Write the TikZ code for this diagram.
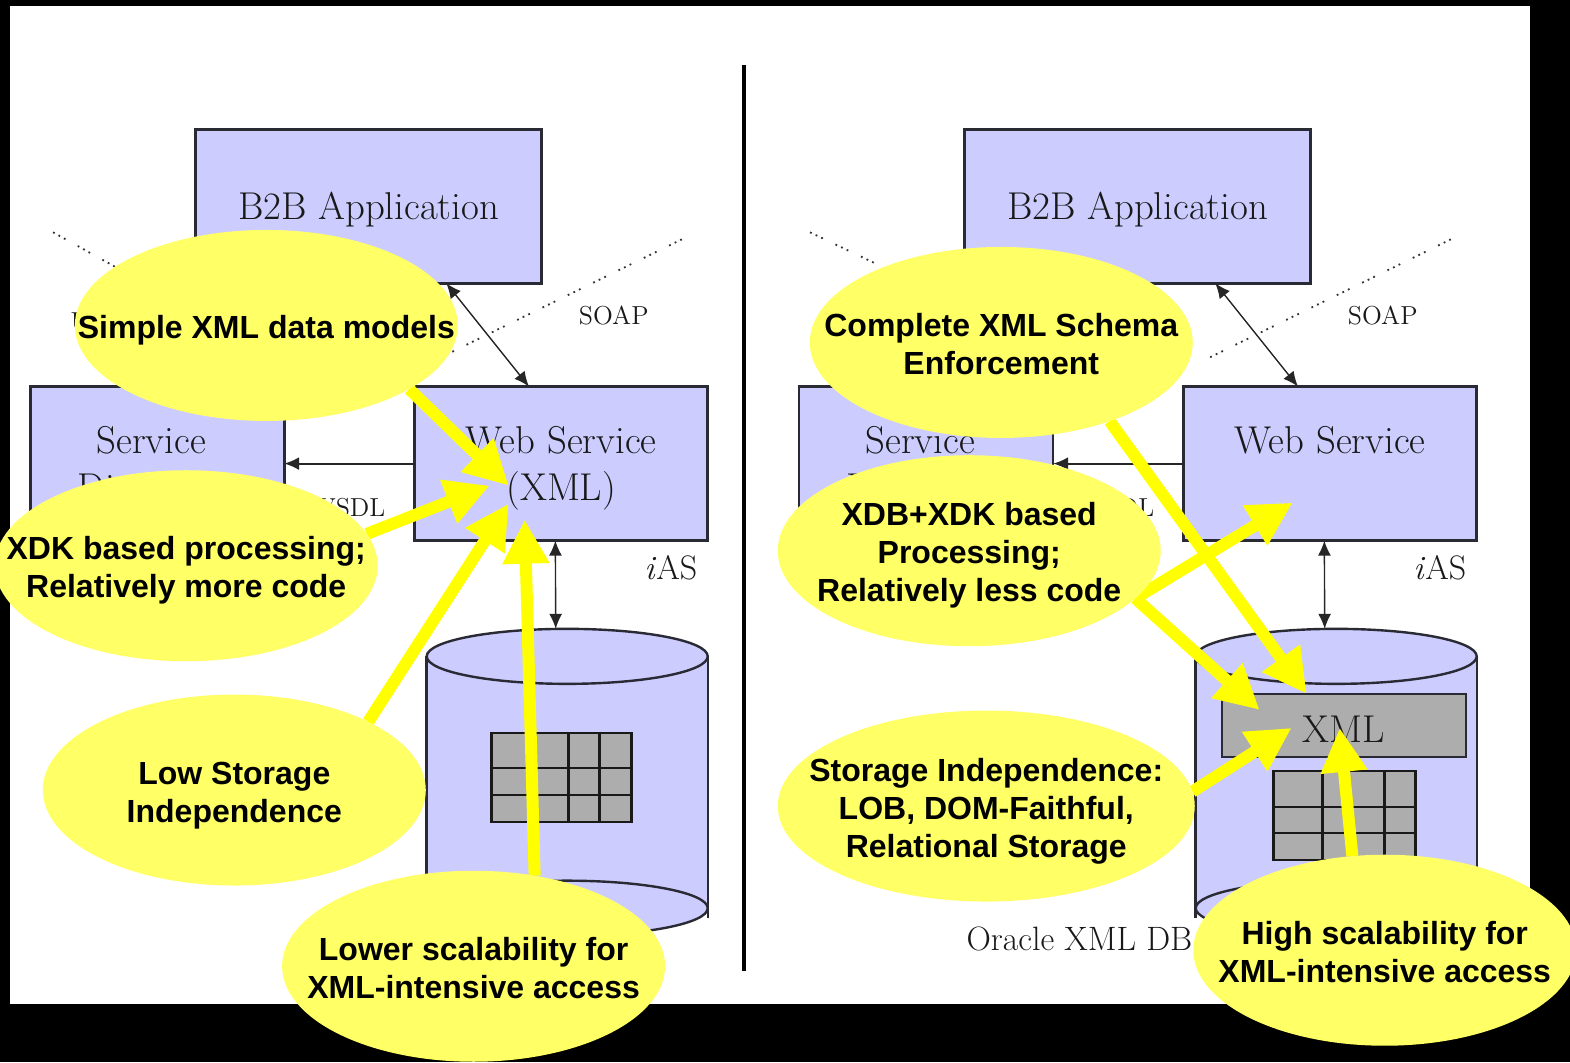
\documentclass[tikz,border=0pt]{standalone}
\usepackage{fontspec}
\usetikzlibrary{shapes.geometric,arrows.meta,calc}
\newfontfamily\bubfont{Liberation Sans}[BoldFont={Liberation Sans Bold}]
\definecolor{lav}{HTML}{CCCCFF}
\definecolor{grid}{HTML}{ADADAD}
\definecolor{inkline}{HTML}{2A2A35}
\definecolor{bub}{HTML}{FFFF66}
\definecolor{hintcol}{HTML}{FFFF00}
\newcommand\bubtext[1]{\makebox[0pt]{\raisebox{-0.44em}[0pt][0pt]{\begin{tabular}{@{}c@{}}#1\end{tabular}}}}
\tikzset{
  x=0.50064pt,y=-0.50064pt,
  boxnode/.style={rectangle,draw=inkline,line width=1.3pt,fill=lav,outer sep=0pt,inner sep=0pt,align=center,text=black!90,
     font=\fontsize{19.4}{23.5}\selectfont,execute at begin node={\rule{0pt}{17.5pt}}},
  lbl/.style={inner sep=0pt,text=black!90,font=\fontsize{13}{16}\selectfont},
  cylline/.style={draw=inkline,line width=1.2pt},
  gridline/.style={draw=black!90,line width=1.3pt},
  link/.style={draw=black!85,line width=0.7pt},
  linkboth/.style={link,{Latex[length=7.5pt,width=6.5pt]}-{Latex[length=7.5pt,width=6.5pt]}},
  linkone/.style={draw=black!85,line width=0.9pt,-{Latex[length=7.5pt,width=6.5pt]}},
  dotline/.style={draw=black!80,line width=0.9pt,dash pattern=on 0.9pt off 2.2pt on 0.9pt off 2.2pt on 0.9pt off 7pt},
  bubble/.style={ellipse,fill=bub,inner sep=0pt,outer sep=0pt,minimum width=191.5pt,minimum height=95.5pt,
     font=\bubfont\bfseries\fontsize{16}{19}\selectfont},
  hint/.style={draw=hintcol,line width=6pt,-{Triangle[length=22pt,width=22pt,fill=hintcol]}},
}
\newcommand\panel[3]{%
  % #1 name prefix, #2 second row of the Web Service box, #3 start of the left dotted line
  \node[boxnode,minimum width=173pt,minimum height=77pt] (#1b2b) at (368,206) {B2B Application};
  \node[boxnode,minimum width=127pt,minimum height=77pt] (#1svc) at (157,463) {Service\hspace*{6pt}\\\smash{Directory}\hspace*{6pt}};
  \node[boxnode,minimum width=146.5pt,minimum height=77pt] (#1web) at (560.5,463) {Web Service\\\smash{#2}};
  \node[lbl] (#1soap) at (613,315) {SOAP};
  \node[lbl] (#1wsdl) at (347,507) {WSDL};
  \node[lbl] (#1uddi) at (104,321) {UDDI};
  \node[lbl,font=\fontsize{17}{20}\selectfont] (#1ias) at (670,567) {\textit{i}AS};
  \coordinate (#1dla) at (#3,232);
  \coordinate (#1dlb) at (125,272);
  \coordinate (#1dra) at (681,239);
  \coordinate (#1drb) at (440,357);
  \draw[dotline] (#1dla) -- (#1dlb);
  \draw[dotline] (#1dra) -- (#1drb);
  \path[fill=lav] (426,655) -- (426,907) arc[start angle=180,end angle=360,x radius=70.25pt,y radius=13.75pt] -- (707,655) -- cycle;
  \draw[cylline,fill=lav] (566.5,907) ellipse[x radius=70.25pt,y radius=13.75pt];
  \draw[cylline] (426,655) -- (426,917);
  \draw[cylline] (707,655) -- (707,917);
  \draw[cylline,fill=lav] (566.5,655.5) ellipse[x radius=70.25pt,y radius=13.75pt];
  \coordinate (#1dbtop) at (555,628);
  \draw[linkboth] ($(#1b2b.south west)!0.725!(#1b2b.south east)$) -- ($(#1web.north west)!0.39!(#1web.north east)$);
  \draw[linkone] (#1web.west) -- (#1svc.east);
  \draw[linkboth] ($(#1web.south west)!0.48!(#1web.south east)$) -- (#1dbtop);
}
\begin{document}
\begin{tikzpicture}
\useasboundingbox (0,0) rectangle (1568,1061);
\fill[black] (0,0) rectangle (1568,1061);
\fill[white] (10,6) rectangle (1528,1003);

\coordinate (divtop) at (743.5,65);
\coordinate (divbot) at (743.5,970);
\draw[black,line width=2pt] (divtop) -- (divbot);

% left panel
\begin{scope}
  \panel{L}{(XML)}{53}
  \node[rectangle,fill=grid,draw=black!90,line width=1.3pt,minimum width=70pt,minimum height=44.5pt,inner sep=0pt,outer sep=0pt] (Ltable) at (561,776.5) {};
  \draw[gridline] (568,732) -- (568,821);
  \draw[gridline] (599,732) -- (599,821);
  \draw[gridline] (491,767) -- (631,767);
  \draw[gridline] (491,794) -- (631,794);
\end{scope}

% right panel
\begin{scope}[shift={(768,0)}]
  \panel{R}{\mbox{}}{41}
  \node[boxnode,fill=grid,minimum width=122pt,minimum height=31.5pt,line width=1.2pt,execute at begin node={}] (Rxml) at (574,724.5) {XML};
  \node[rectangle,fill=grid,draw=black!90,line width=1.3pt,minimum width=71pt,minimum height=44.5pt,inner sep=0pt,outer sep=0pt] (Rtable) at (575,814.5) {};
  \draw[gridline] (553,770) -- (553,859);
  \draw[gridline] (615,770) -- (615,859);
  \draw[gridline] (504,806) -- (646,806);
  \draw[gridline] (504,832) -- (646,832);
\end{scope}

\node[lbl,font=\fontsize{16.9}{20}\selectfont] (oracle) at (1078,938) {Oracle XML DB};

% bubbles placed first as empty reference, drawn last over the arrows
\path
  node[bubble,fill=none] (ea) at (266,325) {}
  node[bubble,fill=none] (eb) at (186,565) {}
  node[bubble,fill=none] (ec) at (234,789) {}
  node[bubble,fill=none] (ed) at (473,965) {}
  node[bubble,fill=none] (ee) at (1000,342) {}
  node[bubble,fill=none] (ef) at (968,550) {}
  node[bubble,fill=none,minimum width=208.5pt] (eg) at (985,805) {}
  node[bubble,fill=none] (eh) at (1383,949) {};

\coordinate (ta) at (508,485);
\coordinate (tb) at (489,485);
\coordinate (tc) at (508,503);
\coordinate (td) at (524,519);
\coordinate (te) at (1305,693);
\coordinate (tf) at (1291,502);
\coordinate (tg) at (1258,709);
\coordinate (th) at (1290,727);
\coordinate (ti) at (1338,727);

\draw[hint] (ea.-24) -- (ta);
\draw[hint] (eb.10) -- (tb);
\draw[hint] (ec.27) -- (tc);
\draw[hint] (ed.56) -- (td);
\draw[hint] (ee.-36) -- (te);
\draw[hint] (ef.-16) -- (tf);
\draw[hint] (ef.-16) -- (tg);
\draw[hint] (eg.4) -- (th);
\draw[hint] (eh.109) -- (ti);

\node[bubble] (Ea) at (266,325) {\bubtext{Simple XML data models}};
\node[bubble] (Eb) at (186,565) {\bubtext{XDK based processing;\\Relatively more code}};
\node[bubble] (Ec) at (234,789) {\bubtext{Low Storage\\Independence}};
\node[bubble] (Ed) at (473,965) {\bubtext{Lower scalability for\\XML-intensive access}};
\node[bubble] (Ee) at (1000,342) {\bubtext{Complete XML Schema\\Enforcement}};
\node[bubble] (Ef) at (968,550) {\bubtext{XDB+XDK based\\Processing;\\Relatively less code}};
\node[bubble,minimum width=208.5pt] (Eg) at (985,805) {\bubtext{Storage Independence:\\LOB, DOM-Faithful,\\Relational Storage}};
\node[bubble] (Eh) at (1383,949) {\bubtext{High scalability for\\XML-intensive access}};
\end{tikzpicture}
\end{document}
